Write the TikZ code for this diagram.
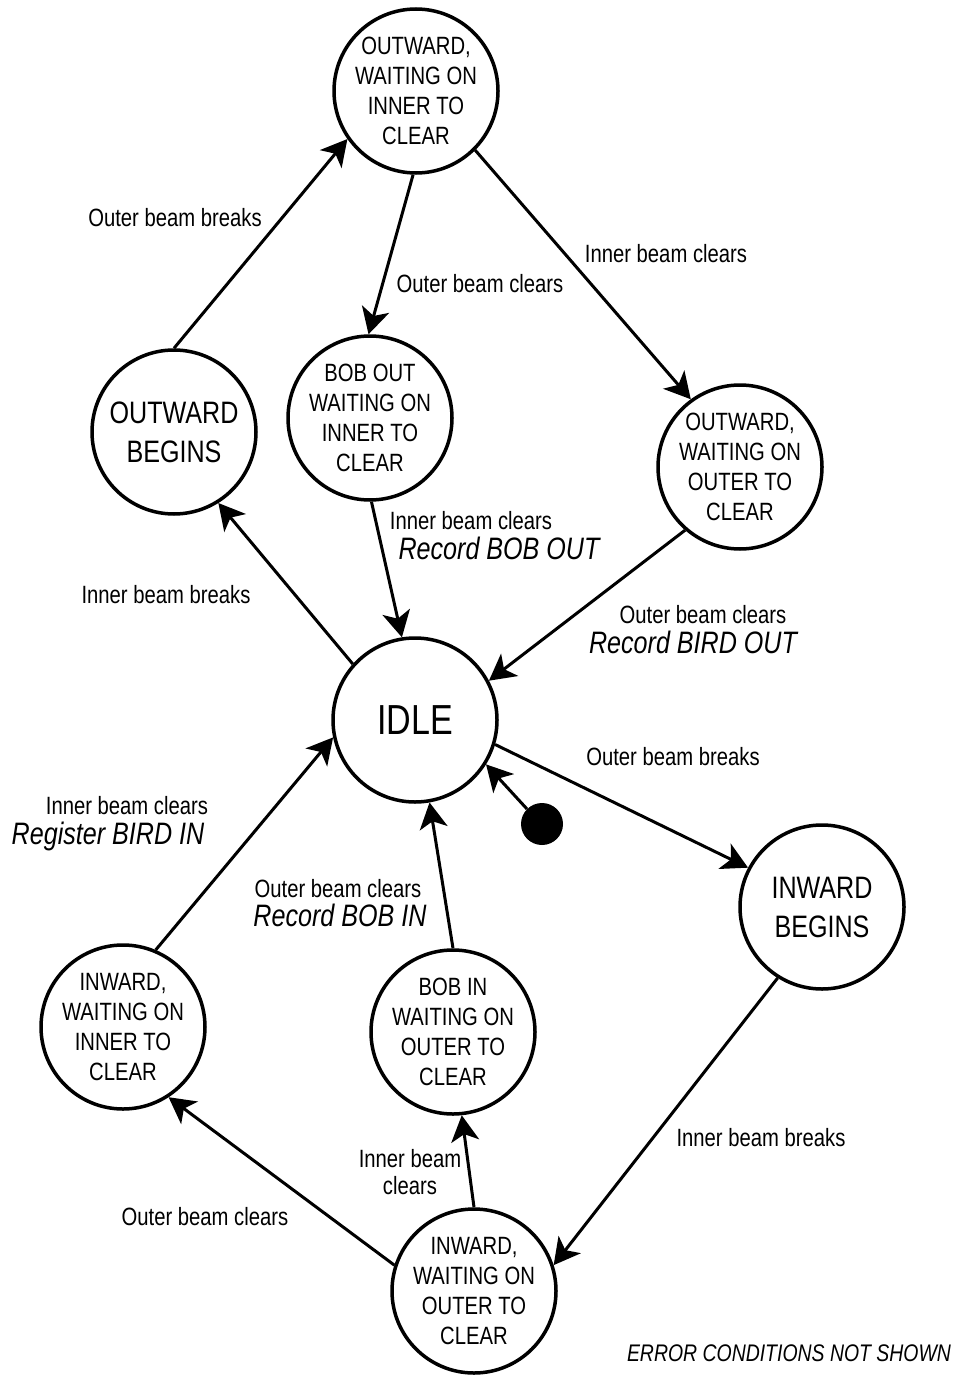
\documentclass[tikz,border=0pt]{standalone}
\usepackage{fontspec}
\setmainfont[FakeStretch=0.81]{Liberation Sans}
\usetikzlibrary{arrows.meta}

\begin{document}
\begin{tikzpicture}[
x=1pt,y=-1pt,
state/.style={draw,circle,line width=3.5pt,minimum size=164pt,inner sep=0pt,align=center,font=\fontsize{25}{30}\selectfont},
arr/.style={-{Stealth[length=26pt,width=28pt,inset=7pt]},line width=3pt},
lbl/.style={anchor=mid,inner sep=0pt,yshift=-6pt,font=\fontsize{25}{30}\selectfont},
act/.style={anchor=mid,inner sep=0pt,yshift=-7pt,font=\fontsize{31}{34}\selectfont\itshape}
]
\useasboundingbox (0,0) rectangle (955,1375);
% states
\node[state] (owi) at (416,91) {OUTWARD,\\WAITING ON\\INNER TO\\CLEAR};
\node[state,font=\fontsize{31}{39}\selectfont] (ob) at (174,432) {OUTWARD\\BEGINS};
\node[state] (bobout) at (370,418) {BOB OUT\\WAITING ON\\INNER TO\\CLEAR};
\node[state] (owo) at (740,467) {OUTWARD,\\WAITING ON\\OUTER TO\\CLEAR};
\node[state,font=\fontsize{42}{48}\selectfont] (idle) at (415,720) {IDLE};
\node[state,font=\fontsize{31}{39}\selectfont] (ib) at (822,907) {INWARD\\BEGINS};
\node[state] (iwi) at (123,1027) {INWARD,\\WAITING ON\\INNER TO\\CLEAR};
\node[state] (bobin) at (453,1032) {BOB IN\\WAITING ON\\OUTER TO\\CLEAR};
\node[state] (iwo) at (474,1291) {INWARD,\\WAITING ON\\OUTER TO\\CLEAR};
\node[circle,fill,minimum size=42pt,inner sep=0pt] (start) at (542,824) {};
% transitions
\draw[arr] (ob.90) -- (owi.215);
\draw[arr] (owi.268) -- (bobout.91);
\draw[arr] (owi.315) -- (owo.126);
\draw[arr] (bobout.271) -- (idle.99);
\draw[arr] (owo.229) -- (idle.28);
\draw[arr] (idle.138) -- (ob.302);
\draw[arr] (idle.343) -- (ib.152);
\draw[arr] (start.135) -- (idle.328);
\draw[arr] (ib.238) -- (iwo.18);
\draw[arr] (iwo.90) -- (bobin.276);
\draw[arr] (iwo.162) -- (iwi.303);
\draw[arr] (bobin.90) -- (idle.280);
\draw[arr] (iwi.67) -- (idle.192);
% labels
\node[lbl] (l1) at (175,218) {Outer beam breaks};
\node[lbl] (l2) at (480,284) {Outer beam clears};
\node[lbl] (l3) at (666,254) {Inner beam clears};
\node[lbl] (l4) at (471,521) {Inner beam clears};
\node[act] (a4) at (499,550) {Record BOB OUT};
\node[lbl] (l5) at (703,615) {Outer beam clears};
\node[act] (a5) at (693,644) {Record BIRD OUT};
\node[lbl] (l6) at (166,595) {Inner beam breaks};
\node[lbl] (l7) at (673,757) {Outer beam breaks};
\node[lbl] (l8) at (127,806) {Inner beam clears};
\node[act] (a8) at (108,835) {Register BIRD IN};
\node[lbl] (l9) at (338,889) {Outer beam clears};
\node[act] (a9) at (340,917) {Record BOB IN};
\node[lbl] (l10) at (761,1138) {Inner beam breaks};
\node[lbl,anchor=center,align=center,font=\fontsize{25}{27}\selectfont] (l11) at (410,1166) {Inner beam\\clears};
\node[lbl] (l12) at (205,1217) {Outer beam clears};
\node[act,font=\fontsize{24}{28}\selectfont\itshape] (note) at (789,1352) {ERROR CONDITIONS NOT SHOWN};
\end{tikzpicture}
\end{document}
